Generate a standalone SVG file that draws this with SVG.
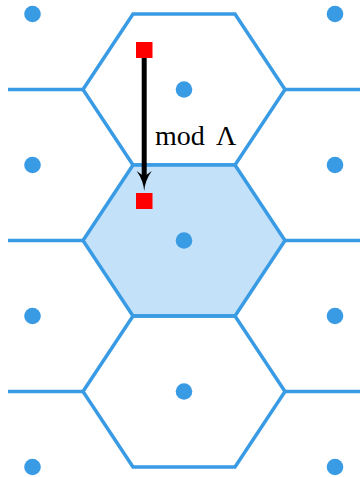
<svg xmlns="http://www.w3.org/2000/svg" width="360" height="477" viewBox="0 0 360 477">
<style>
.cell{fill:none;stroke:#3a9be5;stroke-width:3.5;stroke-linejoin:miter}
.home{fill:#c3e1f8}
.pt{fill:#3a9be5}
.sq{fill:#ff0000}
.lbl{font-family:"Liberation Serif",serif;font-size:28px;fill:#000}
</style>
<rect width="360" height="477" fill="#fff"/>
<g id="cell-top">
<polygon class="cell" points="83,89.5 133,14 235,14 285,89.5 235,165 133,165"/>
</g>
<g id="cell-middle">
<polygon class="cell home" points="83,240.5 133,165 235,165 285,240.5 235,316 133,316"/>
</g>
<g id="cell-bottom">
<polygon class="cell" points="83,391.5 133,316 235,316 285,391.5 235,467 133,467"/>
</g>
<g id="edges">
<path class="cell" d="M8,89.5H83M285,89.5H360M8,240.5H83M285,240.5H360M8,391.5H83M285,391.5H360"/>
</g>
<g id="lattice">
<circle class="pt" cx="32.5" cy="14" r="8.3"/>
<circle class="pt" cx="335" cy="14" r="8.3"/>
<circle class="pt" cx="184" cy="89.5" r="8.3"/>
<circle class="pt" cx="32.5" cy="165" r="8.3"/>
<circle class="pt" cx="335" cy="165" r="8.3"/>
<circle class="pt" cx="184" cy="240.5" r="8.3"/>
<circle class="pt" cx="32.5" cy="316" r="8.3"/>
<circle class="pt" cx="335" cy="316" r="8.3"/>
<circle class="pt" cx="184" cy="391.5" r="8.3"/>
<circle class="pt" cx="32.5" cy="467" r="8.3"/>
<circle class="pt" cx="335" cy="467" r="8.3"/>
</g>
<g id="point-original">
<rect class="sq" x="136" y="42" width="16.5" height="16"/>
</g>
<g id="point-reduced">
<rect class="sq" x="136" y="193" width="16.5" height="16"/>
</g>
<g id="connectors">
<line x1="144.2" y1="58" x2="144.2" y2="180" stroke="#000" stroke-width="5"/>
<path d="M144.2,191 Q145.2,180 151.8,171 L144.2,176.5 L136.6,171 Q143.2,180 144.2,191 Z" fill="#000"/>
<text class="lbl" x="155" y="145">mod <tspan x="216">Λ</tspan></text>
</g>
</svg>
